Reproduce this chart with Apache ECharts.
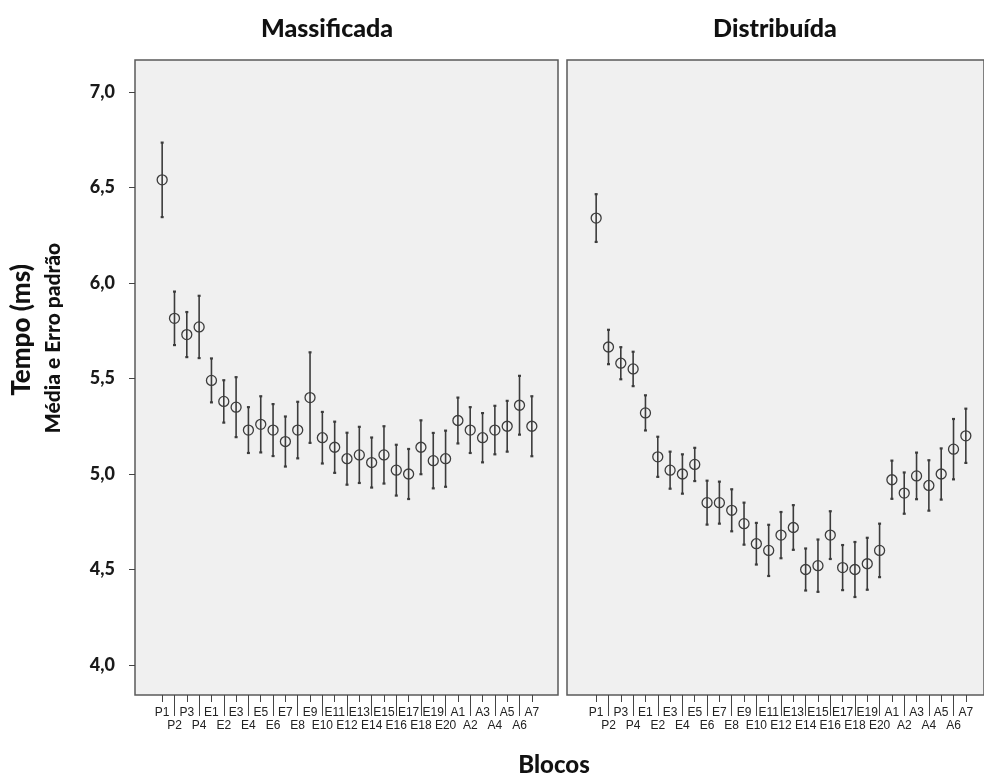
<!DOCTYPE html>
<html>
<head>
<meta charset="utf-8">
<script src="https://cdn.jsdelivr.net/npm/echarts@6/dist/echarts.min.js"></script>
<style>
  html, body { margin: 0; padding: 0; background: #fff; }
  #chart { width: 984px; height: 777px; }
</style>
</head>
<body>
<div id="chart"></div>
<script>
var myChart = echarts.init(document.getElementById('chart'));

// blocos
var blocos = ['P1', 'P2', 'P3', 'P4',
  'E1', 'E2', 'E3', 'E4', 'E5', 'E6', 'E7', 'E8', 'E9', 'E10',
  'E11', 'E12', 'E13', 'E14', 'E15', 'E16', 'E17', 'E18', 'E19', 'E20',
  'A1', 'A2', 'A3', 'A4', 'A5', 'A6', 'A7'];

// Massificada: media e erro padrao
var massMedia = [6.54, 5.815, 5.73, 5.77,
  5.49, 5.38, 5.35, 5.23, 5.26, 5.23, 5.17, 5.23, 5.40, 5.19,
  5.14, 5.08, 5.10, 5.06, 5.10, 5.02, 5.00, 5.14, 5.07, 5.08,
  5.28, 5.23, 5.19, 5.23, 5.25, 5.36, 5.25];
var massErro = [0.195, 0.14, 0.118, 0.163,
  0.115, 0.111, 0.157, 0.12, 0.147, 0.136, 0.131, 0.148, 0.237, 0.135,
  0.134, 0.136, 0.147, 0.131, 0.15, 0.133, 0.131, 0.141, 0.145, 0.147,
  0.12, 0.12, 0.129, 0.127, 0.133, 0.154, 0.157];

// Distribuida: media e erro padrao
var distMedia = [6.34, 5.665, 5.58, 5.55,
  5.32, 5.09, 5.02, 5.00, 5.05, 4.85, 4.85, 4.81, 4.74, 4.635,
  4.60, 4.68, 4.72, 4.50, 4.52, 4.68, 4.51, 4.50, 4.53, 4.60,
  4.97, 4.90, 4.99, 4.94, 5.00, 5.13, 5.20];
var distErro = [0.125, 0.09, 0.084, 0.09,
  0.092, 0.105, 0.097, 0.103, 0.087, 0.115, 0.11, 0.11, 0.11, 0.109,
  0.134, 0.121, 0.117, 0.11, 0.137, 0.125, 0.118, 0.144, 0.136, 0.14,
  0.10, 0.108, 0.122, 0.132, 0.134, 0.158, 0.142];

var yTicks = { min: 4, max: 7, interval: 0.5 };

var barColor = '#3c3c3c';
var labelFont = 'Lato';

function errData(media, erro) {
  return media.map(function (m, i) {
    return [i, m - erro[i], m + erro[i]];
  });
}

function renderErr(params, api) {
  var x = api.value(0);
  var lo = api.coord([x, api.value(1)]);
  var hi = api.coord([x, api.value(2)]);
  var cap = 1.5;
  var st = { stroke: barColor, lineWidth: 1.6 };
  return {
    type: 'group',
    children: [
      { type: 'line', shape: { x1: lo[0], y1: lo[1], x2: hi[0], y2: hi[1] }, style: st },
      { type: 'line', shape: { x1: hi[0] - cap, y1: hi[1], x2: hi[0] + cap, y2: hi[1] }, style: { stroke: barColor, lineWidth: 2.2 } },
      { type: 'line', shape: { x1: lo[0] - cap, y1: lo[1], x2: lo[0] + cap, y2: lo[1] }, style: { stroke: barColor, lineWidth: 2.2 } }
    ]
  };
}

function catAxis(gridIndex) {
  return [{
    type: 'category', gridIndex: gridIndex, data: blocos, position: 'bottom', offset: 30,
    axisLine: { show: false },
    axisTick: { show: true, alignWithLabel: true, length: 7, lineStyle: { color: '#444' },
      interval: function (i) { return i % 2 === 0; } },
    axisLabel: { interval: 0, color: '#222', fontSize: 12, fontFamily: 'Liberation Sans',
      margin: 11, lineHeight: 13,
      formatter: function (v, i) { return i % 2 === 1 ? '\n' + v : v; } },
    splitLine: { show: false }
  }, {
    type: 'category', gridIndex: gridIndex, data: blocos, position: 'bottom', offset: 30,
    axisLine: { show: false },
    axisTick: { show: true, alignWithLabel: true, length: 21, lineStyle: { color: '#444' },
      interval: function (i) { return i % 2 === 1; } },
    axisLabel: { show: false },
    splitLine: { show: false }
  }];
}

function hidden(type, gridIndex) {
  return { type: type, gridIndex: gridIndex, show: false, min: 0, max: 1 };
}

var xAxes = [hidden('value', 0), hidden('value', 1)]
  .concat(catAxis(2)).concat(catAxis(3));

var option = {
  backgroundColor: '#ffffff',
  animation: false,
  grid: [
    // caixas dos paineis
    { left: 135, top: 60, width: 423, height: 635, show: true,
      backgroundColor: '#f0f0f0', borderColor: '#5a5a5a', borderWidth: 1.5 },
    { left: 567, top: 60, width: 425, height: 635, show: true,
      backgroundColor: '#f0f0f0', borderColor: '#5a5a5a', borderWidth: 1.5 },
    // areas de dados
    { left: 156, top: 92, width: 382, height: 573 },
    { left: 590, top: 92, width: 382, height: 573 }
  ],
  xAxis: xAxes,
  yAxis: [
    hidden('value', 0),
    hidden('value', 1),
    {
      type: 'value', gridIndex: 2, min: yTicks.min, max: yTicks.max, interval: yTicks.interval,
      offset: 21,
      axisLine: { show: false },
      axisTick: { show: true, length: 6, lineStyle: { color: '#444' } },
      axisLabel: { color: '#1a1a1a', fontSize: 18, fontWeight: 900, fontFamily: labelFont, margin: 20,
        formatter: function (v) { return v.toFixed(1).replace('.', ','); } },
      splitLine: { show: false }
    },
    { type: 'value', gridIndex: 3, min: yTicks.min, max: yTicks.max, interval: yTicks.interval,
      axisLine: { show: false }, axisTick: { show: false }, axisLabel: { show: false },
      splitLine: { show: false } }
  ],
  graphic: [
    { type: 'text', x: 327, y: 29, style: { text: 'Massificada', fill: '#111',
      font: '900 25px Lato', align: 'center', verticalAlign: 'middle' } },
    { type: 'text', x: 775, y: 29, style: { text: 'Distribuída', fill: '#111',
      font: '900 25px Lato', align: 'center', verticalAlign: 'middle' } },
    { type: 'text', x: 554, y: 765, style: { text: 'Blocos', fill: '#111',
      font: '900 24px Lato', align: 'center', verticalAlign: 'middle' } },
    { type: 'text', x: 22, y: 330, rotation: Math.PI / 2,
      style: { text: 'Tempo (ms)', fill: '#111', font: '900 26px Lato',
        align: 'center', verticalAlign: 'middle' } },
    { type: 'text', x: 53, y: 338, rotation: Math.PI / 2,
      style: { text: 'Média e Erro padrão', fill: '#111', font: '900 21px Lato',
        align: 'center', verticalAlign: 'middle' } }
  ],
  series: [
    { type: 'custom', xAxisIndex: 2, yAxisIndex: 2, renderItem: renderErr,
      data: errData(massMedia, massErro), clip: false, z: 2 },
    { type: 'custom', xAxisIndex: 4, yAxisIndex: 3, renderItem: renderErr,
      data: errData(distMedia, distErro), clip: false, z: 2 },
    { type: 'scatter', xAxisIndex: 2, yAxisIndex: 2, data: massMedia,
      symbol: 'circle', symbolSize: 10, z: 3,
      itemStyle: { color: 'rgba(240,240,240,0)', borderColor: barColor, borderWidth: 1.3, opacity: 1 } },
    { type: 'scatter', xAxisIndex: 4, yAxisIndex: 3, data: distMedia,
      symbol: 'circle', symbolSize: 10, z: 3,
      itemStyle: { color: 'rgba(240,240,240,0)', borderColor: barColor, borderWidth: 1.3, opacity: 1 } }
  ]
};

myChart.setOption(option);
</script>
</body>
</html>
